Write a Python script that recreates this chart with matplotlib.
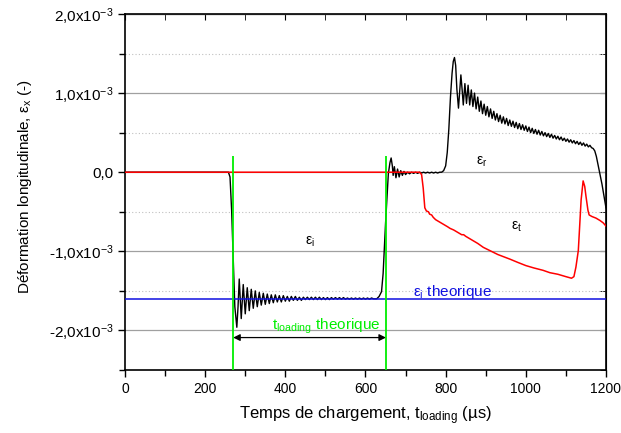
import numpy as np
import matplotlib
matplotlib.use("Agg")
from matplotlib import pyplot as plt
from matplotlib.ticker import MultipleLocator, FixedLocator, FixedFormatter

plt.rcParams['font.family'] = ['Liberation Sans', 'DejaVu Sans']
plt.rcParams['mathtext.fontset'] = 'custom'
plt.rcParams['mathtext.rm'] = 'Liberation Sans'
plt.rcParams['mathtext.it'] = 'Liberation Sans'
plt.rcParams['mathtext.default'] = 'regular'

# strain values in 1e-3 units, time in microseconds
t_black = [0, 258, 262, 266, 270, 274, 279, 282,
           285, 290, 295, 300, 305, 310, 315, 320, 325, 330, 335, 340,
           345, 350, 355, 360, 365, 370, 375, 380, 385, 390, 395, 400,
           405, 410, 415, 420, 425, 430, 435, 440, 445, 450, 455, 460,
           465, 470, 475, 480, 485, 490, 495, 500, 505, 510, 515, 520,
           525, 530, 535, 540, 545, 550, 555, 560, 565, 570, 575, 580,
           585, 590, 595, 600, 605, 610, 615, 620, 628, 634, 640, 644,
           650, 657, 661, 664, 667, 669, 672, 676, 680, 684, 688, 692,
           696, 700, 705, 710, 715, 720, 725, 730, 735, 740, 745, 750,
           755, 760, 765, 770, 775, 780, 785, 790, 795, 800, 804, 808,
           812, 816, 819, 822, 825, 828, 832, 836, 838, 841, 844, 848,
           852, 856, 860, 864, 868, 872, 876, 880, 884, 888, 892, 896,
           900, 904, 908, 912, 916, 920, 924, 928, 932, 936, 940, 944,
           948, 952, 956, 960, 964, 968, 972, 976, 980, 984, 988, 992,
           996, 1000, 1004, 1008, 1012, 1016, 1020, 1024, 1028, 1032, 1036, 1040,
           1044, 1048, 1052, 1056, 1060, 1064, 1068, 1072, 1076, 1080, 1084, 1088,
           1092, 1096, 1100, 1104, 1108, 1112, 1116, 1120, 1124, 1128, 1132, 1136,
           1140, 1144, 1148, 1152, 1156, 1160, 1164, 1168, 1172, 1176, 1180, 1185,
           1190, 1195, 1200]
e_black = [0, 0, -0.06, -0.48, -1.11, -1.70, -1.96, -1.70,
           -1.35, -1.85, -1.42, -1.79, -1.46, -1.75, -1.48, -1.72, -1.50, -1.70, -1.52, -1.68,
           -1.53, -1.67, -1.54, -1.66, -1.55, -1.65, -1.55, -1.64, -1.56, -1.64, -1.56, -1.63,
           -1.57, -1.63, -1.57, -1.62, -1.57, -1.62, -1.58, -1.62, -1.58, -1.61, -1.58, -1.61,
           -1.58, -1.61, -1.58, -1.61, -1.58, -1.61, -1.585, -1.61, -1.585, -1.61, -1.585, -1.605,
           -1.585, -1.605, -1.585, -1.605, -1.585, -1.605, -1.59, -1.605, -1.59, -1.605, -1.59, -1.605,
           -1.59, -1.605, -1.59, -1.605, -1.59, -1.605, -1.59, -1.60, -1.60, -1.57, -1.51, -1.28,
           -0.65, -0.02, 0.12, 0.18, 0.08, -0.04, 0.07, -0.07, 0.04, -0.06, 0.02, -0.04,
           0.01, -0.03, 0.0, -0.02, 0.0, -0.015, 0.0, -0.015, 0.0, -0.01, 0.0, -0.01,
           0.0, -0.01, 0.0, -0.01, 0.0, -0.01, 0.0, 0.0, 0.02, 0.08, 0.25, 0.55,
           0.95, 1.25, 1.40, 1.45, 1.35, 1.05, 0.81, 1.10, 1.23, 1.05, 0.85, 1.12,
           0.87, 1.10, 0.85, 1.04, 0.83, 1.00, 0.80, 0.95, 0.77, 0.90, 0.74, 0.86,
           0.72, 0.83, 0.70, 0.80, 0.68, 0.77, 0.66, 0.74, 0.64, 0.72, 0.62, 0.70,
           0.61, 0.68, 0.59, 0.66, 0.58, 0.645, 0.565, 0.63, 0.55, 0.615, 0.54, 0.60,
           0.53, 0.585, 0.515, 0.57, 0.50, 0.555, 0.49, 0.54, 0.48, 0.53, 0.47, 0.515,
           0.46, 0.50, 0.45, 0.49, 0.44, 0.48, 0.43, 0.465, 0.42, 0.455, 0.41, 0.445,
           0.40, 0.43, 0.39, 0.42, 0.38, 0.41, 0.37, 0.40, 0.36, 0.39, 0.35, 0.38,
           0.34, 0.37, 0.33, 0.355, 0.32, 0.34, 0.31, 0.30, 0.27, 0.20, 0.10, -0.02,
           -0.15, -0.30, -0.45]

t_red = [0, 735, 740, 744, 748, 752, 757, 760, 765, 769, 775, 785, 795, 805,
         811, 820, 830, 840, 845, 850, 860, 870, 880, 894, 910, 930, 961, 980,
         1000, 1020, 1043, 1060, 1080, 1100, 1114, 1120, 1125, 1131, 1138, 1143,
         1147, 1150, 1155, 1158, 1165, 1175, 1185, 1193, 1200]
e_red = [0, 0, -0.03, -0.20, -0.45, -0.49, -0.50, -0.53, -0.54, -0.57, -0.60, -0.63, -0.66, -0.69,
         -0.71, -0.73, -0.76, -0.79, -0.79, -0.81, -0.84, -0.87, -0.90, -0.95, -0.99, -1.04, -1.10, -1.14,
         -1.18, -1.21, -1.24, -1.27, -1.29, -1.32, -1.34, -1.32, -1.20, -0.99, -0.35, -0.11,
         -0.18, -0.30, -0.48, -0.54, -0.56, -0.58, -0.61, -0.64, -0.68]

eps_theo = -1.6
t_start = 270
t_end = 651

yticks = [-2e-3, -1e-3, 0, 1e-3, 2e-3]
ytick_labels = ['-2,0x10$^{-3}$', '-1,0x10$^{-3}$', '0,0', '1,0x10$^{-3}$', '2,0x10$^{-3}$']

fig = plt.figure(figsize=(6.21, 4.33), dpi=100)
ax = fig.add_axes([0.2013, 0.1455, 0.7745, 0.8222])

ax.plot(t_black, np.array(e_black) * 1e-3, color='black', lw=1.0, zorder=3)
ax.plot(t_red, np.array(e_red) * 1e-3, color='red', lw=1.1, zorder=4)
ax.axhline(eps_theo * 1e-3, color='#1010e0', lw=1.1, zorder=5)
ax.vlines([t_start, t_end], -2.5e-3, 0.21e-3, color='#00ee00', lw=1.3, zorder=6)

ax.annotate('', xy=(t_start, -2.09e-3), xytext=(t_end, -2.09e-3),
            arrowprops=dict(arrowstyle='<|-|>', color='black', lw=0.9,
                            shrinkA=0, shrinkB=0, mutation_scale=10), zorder=7)

ax.text(366, -1.99e-3, 't$_{loading}$ theorique', color='#00ee00', fontsize=11)
ax.text(718, -1.57e-3, '\u03b5$_{i}$ theorique', color='#1010e0', fontsize=11)
ax.text(450, -0.92e-3, '\u03b5$_{i}$', fontsize=10)
ax.text(876, 0.10e-3, '\u03b5$_{r}$', fontsize=10)
ax.text(962, -0.73e-3, '\u03b5$_{t}$', fontsize=10)

ax.set_xlim(0, 1200)
ax.set_ylim(-2.5e-3, 2.0e-3)
ax.xaxis.set_major_locator(MultipleLocator(200))
ax.xaxis.set_minor_locator(MultipleLocator(100))
ax.yaxis.set_major_locator(FixedLocator(yticks))
ax.yaxis.set_major_formatter(FixedFormatter(ytick_labels))
ax.yaxis.set_minor_locator(MultipleLocator(0.5e-3))

ax.grid(axis='y', which='major', color='#a0a0a0', lw=0.9, zorder=0)
ax.grid(axis='y', which='minor', color='#c0c0c0', lw=0.8, ls=(0, (1, 2)), zorder=0)
ax.set_axisbelow(True)

ax.tick_params(which='both', labelsize=10, width=1.0, direction='out')
ax.tick_params(axis='y', labelsize=11)
ax.tick_params(which='major', length=5)
ax.tick_params(which='minor', length=4)
for s in ax.spines.values():
    s.set_linewidth(1.2)

sec_x = ax.secondary_xaxis('top')
sec_x.xaxis.set_major_locator(MultipleLocator(200))
sec_x.xaxis.set_minor_locator(MultipleLocator(100))
sec_x.tick_params(which='both', direction='in', labeltop=False, length=4)
sec_y = ax.secondary_yaxis('right')
sec_y.yaxis.set_major_locator(FixedLocator(yticks))
sec_y.yaxis.set_minor_locator(MultipleLocator(0.5e-3))
sec_y.tick_params(which='both', direction='in', labelright=False, length=4)

ax.set_xlabel('Temps de chargement, t$_{loading}$ (\u00b5s)', fontsize=12, labelpad=6)
ax.set_ylabel('D\u00e9formation longitudinale, \u03b5$_{x}$ (-)', fontsize=11)
ax.yaxis.set_label_coords(-0.19, 0.515)

fig.savefig('out.png', dpi=100)
